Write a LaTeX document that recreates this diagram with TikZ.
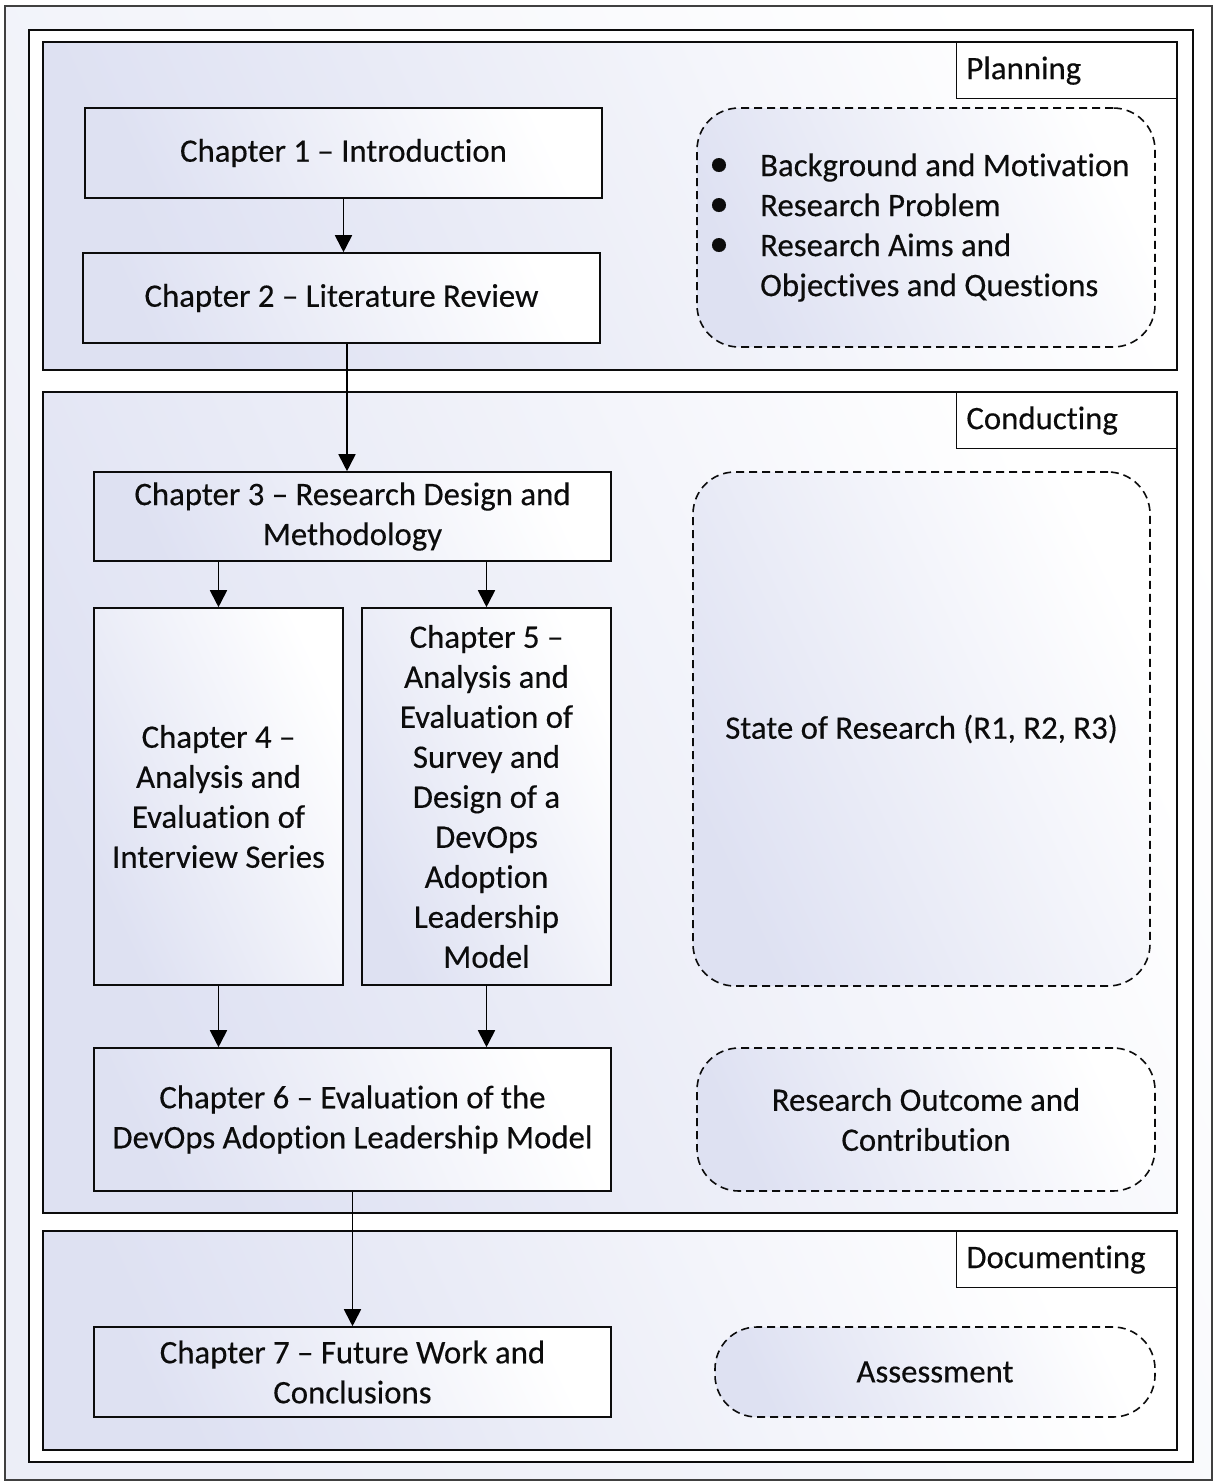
\documentclass[tikz,border=0pt]{standalone}
\usepackage{fontspec}
\newfontfamily\bodyfont{Carlito}[Ligatures=NoCommon, FakeBold=0.3]
\usetikzlibrary{arrows.meta}
\definecolor{lav}{RGB}{222,225,242}
\definecolor{lavlt}{RGB}{236,238,247}
\definecolor{ink}{RGB}{12,12,12}
\begin{document}
\begin{tikzpicture}[x=1pt,y=-1pt,
  txt/.style={font=\bodyfont\fontsize{32.8}{40}\selectfont, text=ink},
  softshade/.style={left color=lav, right color=white, shading angle=115},
  chap/.style={txt, draw=ink, line width=1.6pt, softshade, align=center,
    inner sep=0pt},
  sect/.style={draw=ink, line width=1.8pt, softshade},
  tag/.style={txt, draw=ink, line width=1.2pt, fill=white, anchor=north east,
    text width=200pt, inner xsep=10pt, inner ysep=0pt, minimum height=56pt,
    align=left},
  note/.style={txt, draw=ink, line width=1.6pt, dash pattern=on 8pt off 5pt,
    rounded corners=42pt, softshade, align=center, inner sep=0pt},
  arr/.style={draw=black, line width=1.8pt,
    -{Triangle[length=17pt,width=17pt]}}]
\useasboundingbox (0,0) rectangle (1214,1484);

% outer frames
\draw[draw=black!75, line width=1.2pt, left color=lavlt, right color=white,
  shading angle=115] (5,6) rectangle (1212,1480);
\draw[draw=ink, line width=1.8pt, fill=white] (29,30) rectangle (1193,1462);

% phase sections
\draw[sect] (43,42) rectangle (1177,370);
\draw[sect] (43,392) rectangle (1177,1213);
\draw[sect] (43,1231) rectangle (1177,1450);

\node[tag] (lplan) at (1177,42) {Planning};
\node[tag] (lcond) at (1177,392) {Conducting};
\node[tag] (ldoc) at (1177,1231) {Documenting};

% chapters
\node[chap, minimum width=517pt, minimum height=90pt] (c1) at (343.5,153)
  {Chapter 1 – Introduction};
\node[chap, minimum width=517pt, minimum height=90pt] (c2) at (341.5,298)
  {Chapter 2 – Literature Review};
\node[chap, minimum width=517pt, minimum height=89pt] (c3) at (352.5,516.5)
  {Chapter 3 – Research Design and\\Methodology};
\node[chap, minimum width=249pt, minimum height=377pt] (c4) at (218.5,796.5)
  {Chapter 4 –\\Analysis and\\Evaluation of\\Interview Series};
\node[chap, minimum width=249pt, minimum height=377pt] (c5) at (486.5,796.5)
  {Chapter 5 –\\Analysis and\\Evaluation of\\Survey and\\Design of a\\DevOps\\Adoption\\Leadership\\Model};
\node[chap, minimum width=517pt, minimum height=143pt] (c6) at (352.5,1119.5)
  {Chapter 6 – Evaluation of the\\DevOps Adoption Leadership Model};
\node[chap, minimum width=517pt, minimum height=90pt] (c7) at (352.5,1372)
  {Chapter 7 – Future Work and\\Conclusions};

% side notes
\node[note, minimum width=458pt, minimum height=239pt] (n1) at (926,227.5) {};
\node[txt, anchor=west, align=left, inner sep=0pt] (n1t) at (709,227.5)
  {\makebox[51pt][l]{\scalebox{1.2}{\textbullet}}Background and Motivation\\
   \makebox[51pt][l]{\scalebox{1.2}{\textbullet}}Research Problem\\
   \makebox[51pt][l]{\scalebox{1.2}{\textbullet}}Research Aims and\\
   \hspace*{51pt}Objectives and Questions};
\node[note, minimum width=457pt, minimum height=514pt] (n2) at (921.5,729)
  {State of Research (R1, R2, R3)};
\node[note, minimum width=458pt, minimum height=143pt] (n3) at (926,1119.5)
  {Research Outcome and\\Contribution};
\node[note, minimum width=440pt, minimum height=90pt] (n4) at (935,1372)
  {Assessment};

% flow
\draw[arr] (c1.south) -- (c1.south |- c2.north);
\draw[arr] ([xshift=5.5pt]c2.south) -- ([xshift=5.5pt]c2.south |- c3.north);
\draw[arr] (c4.north |- c3.south) -- (c4.north);
\draw[arr] (c5.north |- c3.south) -- (c5.north);
\draw[arr] (c4.south) -- (c4.south |- c6.north);
\draw[arr] (c5.south) -- (c5.south |- c6.north);
\draw[arr] (c6.south) -- (c7.north);
\end{tikzpicture}
\end{document}
